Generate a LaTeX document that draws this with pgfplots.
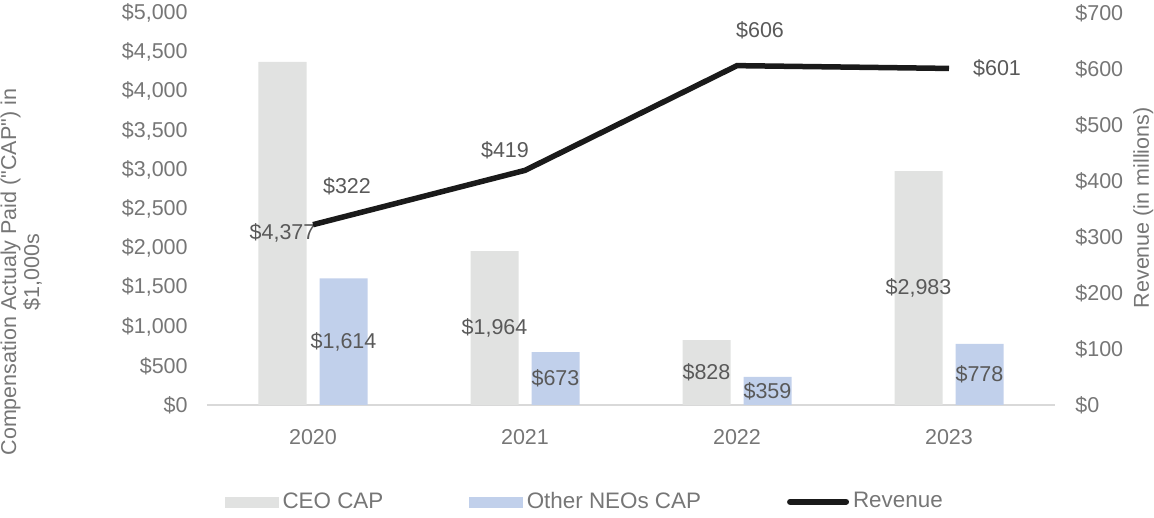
\documentclass[border=0pt]{standalone}
\usepackage{pgfplots}
\pgfplotsset{compat=1.18}
\usepackage{pgfplotstable}
\usepackage{fontspec}
\setmainfont{Liberation Sans}[Ligatures=TeXOff]

\definecolor{ceo}{HTML}{E1E2E1}
\definecolor{neo}{HTML}{C1D0EB}
\definecolor{rev}{HTML}{1A1A1A}
\definecolor{ticktxt}{HTML}{767676}
\definecolor{labtxt}{HTML}{595959}
\definecolor{baseline}{HTML}{D9D9D9}

% compensation actually paid, $1,000s
\pgfplotstableread{
x ceo neo
0 4377 1614
1 1964 673
2 828 359
3 2983 778
}\captable

% revenue in millions, with label offsets (pt)
\pgfplotstableread{
x rev dx dy
0 322 34 38
1 419 -20 20
2 606 23 35
3 601 48 0
}\revtable

\begin{document}
\fontsize{21.5}{23}\selectfont
\begin{tikzpicture}
\useasboundingbox (0,0) rectangle (1154pt,518pt);
\begin{axis}[
    at={(207pt,113pt)}, anchor=south west,
    scale only axis, width=848pt, height=392pt,
    ybar=13pt, bar width=48pt,
    xmin=-0.5, xmax=3.5, ymin=0, ymax=5000,
    xtick={0,1,2,3}, xticklabels={2020,2021,2022,2023},
    ytick={0,500,...,5000},
    yticklabels={\$0,\$500,{\$1,000},{\$1,500},{\$2,000},{\$2,500},{\$3,000},{\$3,500},{\$4,000},{\$4,500},{\$5,000}},
    axis x line*=bottom, axis y line*=left,
    y axis line style={draw=none},
    x axis line style={-, draw=baseline, line width=1.5pt},
    tick style={draw=none},
    xticklabel style={text=ticktxt, yshift=-13pt},
    yticklabel style={text=ticktxt, xshift=-12pt},
    ylabel={Compensation Actualy Paid ("CAP") in\\\$1,000s},
    ylabel style={at={(axis description cs:-0.219,0.339)}, anchor=center, align=center, text=ticktxt},
    nodes near coords={\$\pgfmathprintnumber{\pgfplotspointmeta}},
    /pgf/number format/assume math mode=true,
    visualization depends on={rawy \as \rawy},
    every node near coord/.append style={anchor=center, text=labtxt,
        shift={(axis direction cs:0,{-0.5*\rawy})}},
    ]
    \addplot[fill=ceo, draw=none] table[x=x, y=ceo] {\captable};
    \addplot[fill=neo, draw=none] table[x=x, y=neo] {\captable};
\end{axis}

\begin{axis}[
    at={(207pt,113pt)}, anchor=south west,
    scale only axis, width=848pt, height=392pt,
    xmin=-0.5, xmax=3.5, ymin=0, ymax=700,
    axis x line=none, axis y line*=right,
    y axis line style={draw=none}, tick style={draw=none},
    ytick={0,100,...,700},
    yticklabels={\$0,\$100,\$200,\$300,\$400,\$500,\$600,\$700},
    yticklabel style={text=ticktxt, xshift=13pt},
    ylabel={Revenue (in millions)},
    ylabel style={at={(axis description cs:1.104,0.503)}, anchor=center, text=ticktxt},
    /pgf/number format/assume math mode=true,
    legend columns=3,
    legend cell align=left,
    legend style={at={(axis description cs:0.0212,-0.247)}, anchor=west,
        draw=none, fill=none, inner sep=0pt,
        nodes={text=ticktxt, inner xsep=4pt, inner ysep=2pt, font=\fontsize{22.4}{24}\selectfont},
        /tikz/every even column/.append style={column sep=82pt}},
    ]
    \addlegendimage{legend image code/.code={\fill[ceo] (0pt,-5pt) rectangle (53pt,5pt);}}
    \addlegendimage{legend image code/.code={\fill[neo] (0pt,-5pt) rectangle (53pt,5pt);}}
    \addplot[rev, line width=5.5pt,
        legend image code/.code={\draw[rev, line width=6pt, line cap=round] (3pt,0pt) -- (59pt,0pt);},
        nodes near coords={\$\pgfmathprintnumber{\pgfplotspointmeta}},
        visualization depends on={\thisrow{dx} \as \dx},
        visualization depends on={\thisrow{dy} \as \dy},
        every node near coord/.append style={anchor=center, text=labtxt, shift={(\dx pt,\dy pt)}},
        ] table[x=x, y=rev] {\revtable};
    \legend{CEO CAP, Other NEOs CAP, Revenue}
\end{axis}
\end{tikzpicture}
\end{document}
